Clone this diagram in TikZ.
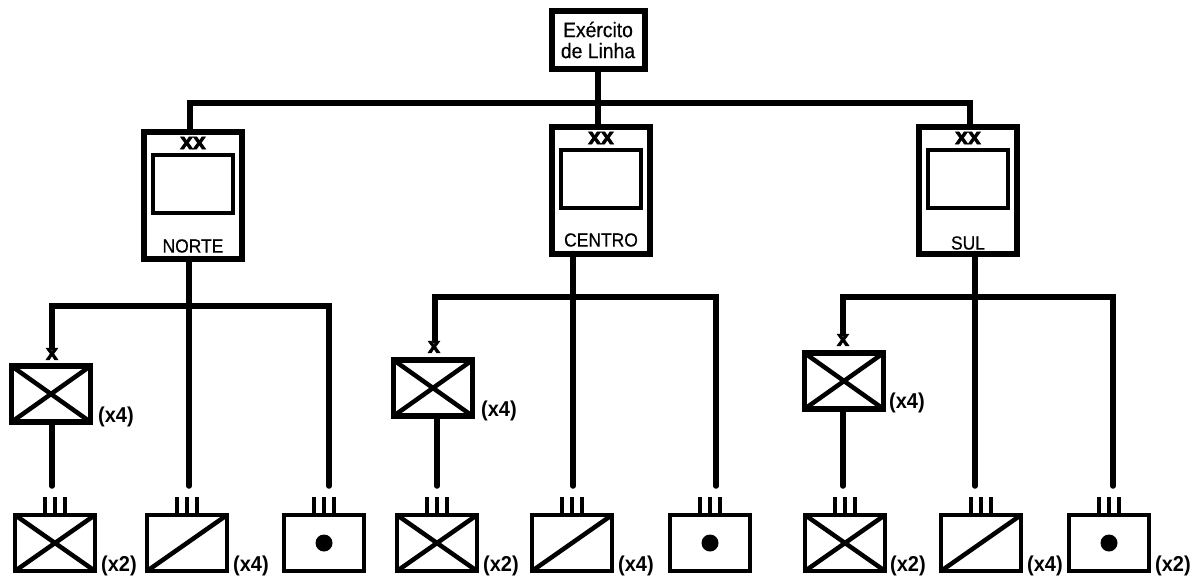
\documentclass[tikz,border=0pt]{standalone}
\usepackage{fontspec}
\setmainfont{Liberation Sans}
\newfontfamily\labelfont[FakeBold=0.4, FakeStretch=0.92]{Liberation Sans}
\newfontfamily\markfont[FakeBold=3]{Liberation Sans Bold}
\newfontfamily\countfont[FakeStretch=0.93]{Liberation Sans Bold}
\usetikzlibrary{positioning, calc}
\tikzstyle{army} = [rectangle, draw=black, line width=6pt, outer sep=0pt, minimum width=93pt, minimum height=58pt, align=center, font=\labelfont\fontsize{21}{21}\selectfont]
\tikzstyle{division} = [rectangle, draw=black, line width=6pt, outer sep=0pt, minimum width=98pt, minimum height=127pt]
\tikzstyle{frame} = [rectangle, draw=black, line width=3.5pt, outer sep=0pt, minimum width=80pt, minimum height=58pt]
\tikzstyle{brigade} = [rectangle, draw=black, line width=5.5pt, outer sep=0pt, minimum width=79pt, minimum height=56pt]
\tikzstyle{battalion} = [rectangle, draw=black, line width=4.5pt, outer sep=0pt, minimum width=80pt, minimum height=56pt]
\tikzstyle{marker} = [font=\markfont\fontsize{23}{23}\selectfont, inner sep=0pt]
\tikzstyle{smallmarker} = [font=\markfont\fontsize{22}{22}\selectfont, inner sep=0pt]
\tikzstyle{divname} = [font=\labelfont\fontsize{19}{19}\selectfont, inner sep=0pt]
\tikzstyle{count} = [font=\countfont\fontsize{21.5}{21.5}\selectfont, inner sep=0pt, anchor=west]
\tikzstyle{link} = [line width=6.5pt]
\tikzstyle{stem} = [line width=5.5pt, line cap=round]
\tikzstyle{cross} = [line width=4.5pt]

\begin{document}
\begin{tikzpicture}[x=1pt, y=-1pt]
\useasboundingbox (0,0) rectangle (1204,582);
\fill[white] (0,0) rectangle (1204,582);

\node (exercito) [army] at (598,40) {Exército\\de Linha};
\coordinate (busnorte) at (190,103);
\coordinate (bussul) at (970,103);

% Divisions
\node (norte) [division] at (193,195) {};
\node (centro) [division] at (601,190) {};
\node (sul) [division] at (968,190) {};
\foreach \dv/\name/\dy in {norte/NORTE/51, centro/CENTRO/50, sul/SUL/53} {
  \node (\dv frame) [frame] at ($(\dv.center)+(0,-11)$) {};
  \node (\dv mark) [marker] at ($(\dv.center)+(0,-52)$) {xx};
  \node (\dv name) [divname] at ($(\dv.center)+(0,\dy)$) {\name};
}

% Brigades
\node (brignorte) [brigade] at (51,394) {};
\node (brigcentro) [brigade] at (433,388) {};
\node (brigsul) [brigade] at (844,381) {};
\node (marknorte) [smallmarker] at (52,354) {x};
\node (markcentro) [smallmarker] at (434,347) {x};
\node (marksul) [smallmarker] at (843,340) {x};
\node (cntnorte) [count] at (98,417) {(x4)};
\node (cntcentro) [count] at (481,411) {(x4)};
\node (cntsul) [count] at (889,403) {(x4)};

% Battalions
\node (infa) [battalion] at (55,543) {};
\node (cava) [battalion] at (187,543) {};
\node (arta) [battalion] at (324,543) {};
\node (infb) [battalion] at (437,543) {};
\node (cavb) [battalion] at (572,543) {};
\node (artb) [battalion] at (710,543) {};
\node (infc) [battalion] at (845,543) {};
\node (cavc) [battalion] at (981,543) {};
\node (artc) [battalion] at (1109,543) {};

\node (cntinfa) [count] at (101,566) {(x2)};
\node (cntcava) [count] at (233,566) {(x4)};
\node (cntinfb) [count] at (483,566) {(x2)};
\node (cntcavb) [count] at (618,566) {(x4)};
\node (cntinfc) [count] at (890,566) {(x2)};
\node (cntcavc) [count] at (1027,566) {(x4)};
\node (cntartc) [count] at (1155,566) {(x2)};

\foreach \bx in {brignorte, brigcentro, brigsul, infa, infb, infc} {
  \draw [cross] (\bx.north west) -- (\bx.south east);
  \draw [cross] (\bx.south west) -- (\bx.north east);
}
\foreach \bx in {cava, cavb, cavc} {
  \draw [cross] (\bx.south west) -- (\bx.north east);
}
\foreach \bx in {arta, artb, artc} {
  \node (\bx dot) [circle, fill=black, minimum size=17pt, inner sep=0pt] at (\bx.center) {};
}
\foreach \bx in {infa, cava, arta, infb, cavb, artb, infc, cavc, artc} {
  \foreach \dx in {-10, 0, 10} {
    \draw [line width=4.5pt] ($(\bx.north)+(\dx,0)$) -- ++(0,-18);
  }
}

% Top links
\draw [link] (exercito.south) -- (exercito.south |- centro.north);
\draw [link] (busnorte |- norte.north) -- (busnorte) -- (bussul) -- (bussul |- sul.north);

% Division buses
\coordinate (busa) at (52,306);
\coordinate (busb) at (329,306);
\coordinate (busc) at (435,297);
\coordinate (busd) at (716,297);
\coordinate (buse) at (843,297);
\coordinate (busf) at (1113,297);
\coordinate (enda) at (189,486);
\coordinate (endb) at (329,486);
\coordinate (endc) at (573,486);
\coordinate (endd) at (716,486);
\coordinate (ende) at (975,486);
\coordinate (endf) at (1113,486);
\coordinate (endg) at (52,486);
\coordinate (endh) at (437,486);
\coordinate (endi) at (843,486);

\draw [stem] (busa |- marknorte.north) -- (busa) -- (busb) -- (endb);
\draw [stem] (busc |- markcentro.north) -- (busc) -- (busd) -- (endd);
\draw [stem] (buse |- marksul.north) -- (buse) -- (busf) -- (endf);
\draw [stem] (enda |- norte.south) -- (enda);
\draw [stem] (endc |- centro.south) -- (endc);
\draw [stem] (ende |- sul.south) -- (ende);
\draw [stem] (endg |- brignorte.south) -- (endg);
\draw [stem] (endh |- brigcentro.south) -- (endh);
\draw [stem] (endi |- brigsul.south) -- (endi);

\end{tikzpicture}
\end{document}
